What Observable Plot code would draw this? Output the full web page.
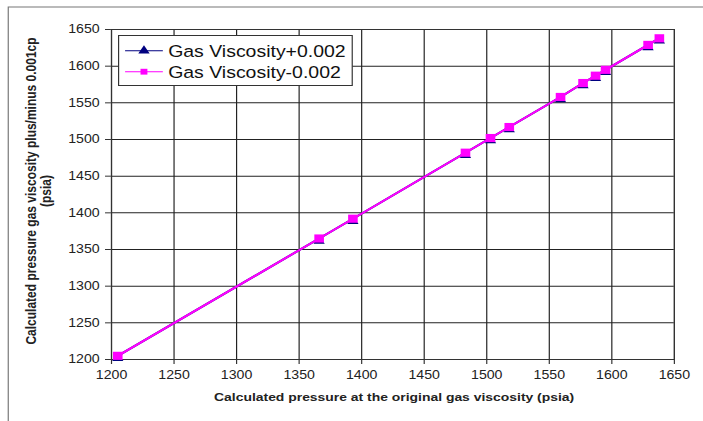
<!DOCTYPE html>
<html>
<head>
<meta charset="utf-8">
<script src="https://cdn.jsdelivr.net/npm/d3@7"></script>
<script src="https://cdn.jsdelivr.net/npm/@observablehq/plot@0.6"></script>
<style>
  html, body { margin: 0; padding: 0; background: #fff; }
  #wrap { position: relative; width: 703px; height: 421px; overflow: hidden; background: #fff; }
  /* the chart is laid out narrow and widened, like a stretched spreadsheet chart */
  #chart { position: absolute; left: 0; top: 0; width: 596px; height: 421px;
           transform: scaleX(1.18); transform-origin: 0 0; }
</style>
</head>
<body>
<div id="wrap"><div id="chart"></div></div>
<script>
// Calculated pressure at the original gas viscosity (psia)
const originalPressure = [1205, 1366, 1393, 1483, 1503, 1518, 1559, 1577, 1587, 1595, 1629, 1638];
// Calculated pressure with gas viscosity +0.002 cp (psia)
const pressurePlus  = [1205, 1365, 1392, 1482, 1502, 1517, 1558, 1577, 1587, 1595, 1629, 1638];
// Calculated pressure with gas viscosity -0.002 cp (psia)
const pressureMinus = [1205, 1365, 1392, 1482, 1502, 1517, 1558, 1577, 1587, 1595, 1629, 1638];

const xTicks = [1200, 1250, 1300, 1350, 1400, 1450, 1500, 1550, 1600, 1650];
const yTicks = [1200, 1250, 1300, 1350, 1400, 1450, 1500, 1550, 1600, 1650];

const seriesNames = ["Gas Viscosity+0.002", "Gas Viscosity-0.002"];
const xTitle = "Calculated pressure at the original gas viscosity (psia)";
const yTitleLines = ["Calculated pressure gas viscosity plus/minus 0.001cp", "(psia)"];

const plusRows = originalPressure.map((x, i) => ({x, y: pressurePlus[i]}));
const minusRows = originalPressure.map((x, i) => ({x, y: pressureMinus[i]}));

const W = 596, H = 421;
const NAVY = "#000080", MAGENTA = "#ff00ff";
const FONT = "'Liberation Sans', Arial, sans-serif";

const chart = Plot.plot({
  width: W, height: H,
  marginLeft: 94, marginRight: 25, marginTop: 29, marginBottom: 62,
  style: { fontFamily: FONT, fontSize: "12px", color: "#222", background: "transparent", overflow: "visible" },
  x: { domain: [1200, 1650], label: null },
  y: { domain: [1200, 1650], label: null },
  marks: [
    Plot.gridX(xTicks, { stroke: "#222", strokeOpacity: 1, strokeWidth: 1 }),
    Plot.gridY(yTicks, { stroke: "#222", strokeOpacity: 1, strokeWidth: 1 }),
    Plot.frame({ stroke: "#333", strokeWidth: 1 }),
    Plot.axisX({ ticks: xTicks, tickSize: 5, tickPadding: 6, tickFormat: d => String(d), label: null, stroke: "#333" }),
    Plot.axisY({ ticks: yTicks, tickSize: 5, tickPadding: 5, tickFormat: d => String(d), label: null, stroke: "#333" }),
    Plot.line(plusRows, { x: "x", y: "y", stroke: NAVY, strokeWidth: 2 }),
    Plot.dot(plusRows, { x: "x", y: "y", symbol: "triangle", fill: NAVY, r: 3.55, dy: 2.5 }),
    Plot.line(minusRows, { x: "x", y: "y", stroke: MAGENTA, strokeWidth: 2 }),
    Plot.dot(minusRows, { x: "x", y: "y", symbol: "square", fill: MAGENTA, r: 4.6 })
  ]
});

document.getElementById("chart").appendChild(chart);

const svg = d3.select(chart);

// outer chart border (top and left edges are visible)
svg.insert("path", ":first-child")
  .attr("d", `M${W},7H7V${H}`)
  .attr("fill", "none").attr("stroke", "#777").attr("stroke-width", 1);

// axis titles
svg.append("text")
  .attr("x", 334).attr("y", 401)
  .attr("text-anchor", "middle")
  .attr("font-family", FONT)
  .attr("font-size", 11.8).attr("font-weight", "bold").attr("fill", "#222")
  .text(xTitle);

const yt = svg.append("g").attr("transform", "translate(0,191) rotate(-90)");
yTitleLines.forEach((line, i) => {
  yt.append("text")
    .attr("x", 0).attr("y", 30.5 + i * 12.7)
    .attr("text-anchor", "middle")
    .attr("font-family", FONT)
    .attr("font-size", 12).attr("font-weight", "bold").attr("fill", "#222")
    .text(line);
});

// legend
const lg = svg.append("g");
lg.append("rect")
  .attr("x", 100.5).attr("y", 35.5).attr("width", 198).attr("height", 50)
  .attr("fill", "#fff").attr("stroke", "#333").attr("stroke-width", 1);
const rows = [
  { name: seriesNames[0], color: NAVY, symbol: d3.symbolTriangle, size: 40 },
  { name: seriesNames[1], color: MAGENTA, symbol: d3.symbolSquare, size: 34 }
];
rows.forEach((r, i) => {
  const cy = 50.7 + i * 21;
  lg.append("line").attr("x1", 106).attr("x2", 138).attr("y1", cy).attr("y2", cy)
    .attr("stroke", r.color).attr("stroke-width", 1);
  lg.append("path").attr("d", d3.symbol(r.symbol, r.size)())
    .attr("transform", `translate(122,${cy})`).attr("fill", r.color);
  lg.append("text").attr("x", 142.5).attr("y", cy).attr("dy", "0.36em")
    .attr("text-anchor", "start")
    .attr("font-family", FONT)
    .attr("font-size", 16.5).attr("fill", "#111")
    .text(r.name);
});
</script>
</body>
</html>
